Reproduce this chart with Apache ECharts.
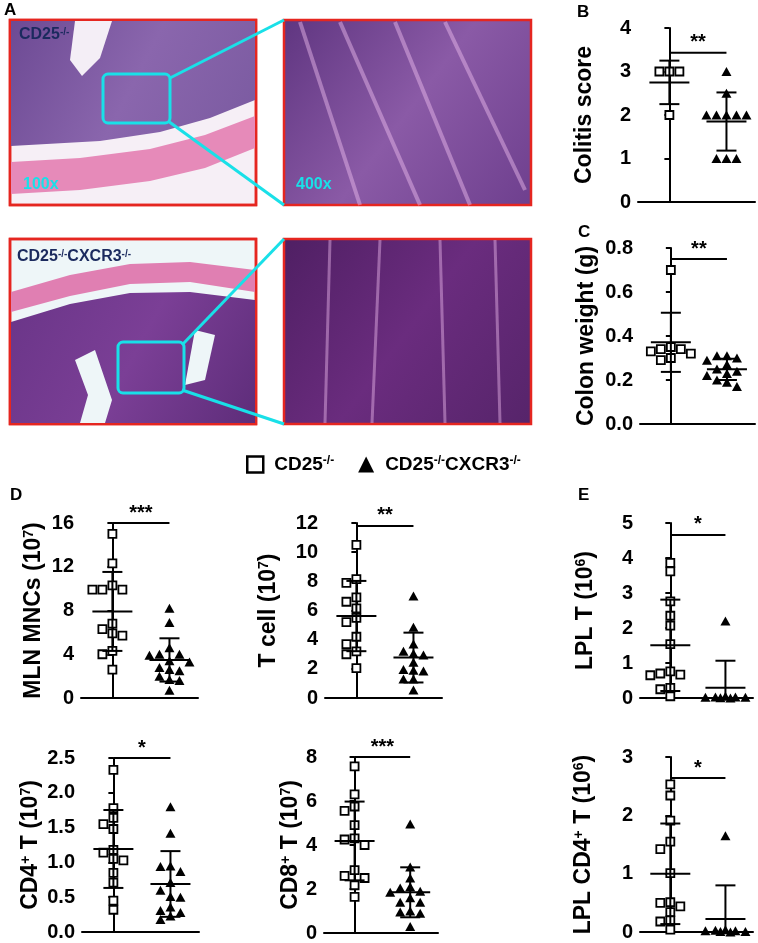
<!DOCTYPE html>
<html>
<head>
<meta charset="utf-8">
<title>CD25 / CXCR3 colitis</title>
<script src="https://cdn.jsdelivr.net/npm/echarts@6/dist/echarts.min.js"></script>
<style>html,body{margin:0;padding:0;background:#fff;} #main{width:758px;height:943px;}</style>
</head>
<body>
<div id="main"></div>
<script type="text/javascript">
// the two groups
var groupNames = ['CD25-/-', 'CD25-/-CXCR3-/-'];

// B: colitis score
var colitisKO = [3, 3, 3, 2];
var colitisDKO = [3, 2.5, 2, 2, 2, 2, 2, 1, 1, 1];
// C: colon weight (g)
var weightKO = [0.70, 0.35, 0.34, 0.34, 0.33, 0.32, 0.30, 0.29];
var weightDKO = [0.31, 0.31, 0.30, 0.29, 0.27, 0.25, 0.24, 0.23, 0.22, 0.20, 0.19, 0.17];
// D: MLN MNCs, T cell, CD4+ T, CD8+ T (10^7)
var mlnKO = [15.0, 12.3, 10.3, 9.9, 9.9, 9.9, 6.8, 6.3, 5.9, 5.7, 4.3, 4.0, 2.6];
var mlnDKO = [8.2, 6.9, 4.6, 4.0, 4.0, 3.9, 3.4, 3.3, 2.8, 2.6, 2.5, 2.0, 1.7, 1.6, 0.7];
var tcellKO = [10.5, 8.15, 7.9, 6.9, 6.6, 6.15, 5.5, 5.2, 4.2, 3.7, 3.2, 3.0, 2.05];
var tcellDKO = [7.0, 4.85, 3.7, 3.2, 3.05, 2.95, 2.45, 1.95, 1.9, 1.85, 1.3, 1.3, 0.55];
var cd4KO = [2.33, 1.78, 1.64, 1.55, 1.48, 1.18, 1.14, 1.05, 1.03, 0.85, 0.71, 0.45, 0.32];
var cd4DKO = [1.80, 1.42, 0.95, 0.94, 0.87, 0.71, 0.60, 0.51, 0.50, 0.36, 0.31, 0.28, 0.23, 0.18];
var cd8KO = [7.57, 6.3, 5.75, 5.55, 4.9, 4.3, 4.25, 4.0, 2.86, 2.6, 2.5, 2.17, 1.64];
var cd8DKO = [4.95, 3.0, 2.5, 2.1, 2.05, 1.9, 1.85, 1.6, 1.4, 1.4, 1.0, 0.95, 0.9, 0.3];
// E: LPL T, LPL CD4+ T (10^6)
var lplKO = [3.86, 3.62, 2.76, 2.35, 2.07, 1.54, 0.76, 0.70, 0.67, 0.65, 0.29, 0.25, 0.05];
var lplDKO = [2.2, 0.05, 0.03, 0.03, 0.02, 0.02, 0.01, 0.0];
var lplCd4KO = [2.53, 2.34, 1.91, 1.55, 1.42, 1.01, 0.51, 0.50, 0.44, 0.34, 0.20, 0.18, 0.04];
var lplCd4DKO = [1.65, 0.04, 0.03, 0.02, 0.02, 0.01, 0.01, 0.0];

// per plot: y axis and significance
var yTitles = ['Colitis score', 'Colon weight (g)', 'MLN MNCs (10{s|7})', 'T cell (10{s|7})',
               'CD4{s|+} T (10{s|7})', 'CD8{s|+} T (10{s|7})', 'LPL T (10{s|6})', 'LPL CD4{s|+} T (10{s|6})'];
var yMax = [4, 0.8, 16, 12, 2.5, 8, 5, 3];
var yStep = [1, 0.2, 4, 2, 0.5, 2, 1, 1];
var yDigits = [0, 1, 0, 0, 1, 0, 0, 0];
var sigStars = ['**', '**', '***', '**', '*', '***', '*', '*'];
var sigLevel = [3.43, 0.75, 16, 11.8, 2.5, 8, 4.66, 2.64];

var koSets = [colitisKO, weightKO, mlnKO, tcellKO, cd4KO, cd8KO, lplKO, lplCd4KO];
var dkoSets = [colitisDKO, weightDKO, mlnDKO, tcellDKO, cd4DKO, cd8DKO, lplDKO, lplCd4DKO];

// layout of the eight plot boxes
var boxes = [
    {left: 638, top: 28, width: 117, height: 174, gap: 42},
    {left: 640, top: 248, width: 115, height: 176, gap: 42},
    {left: 81, top: 523, width: 117, height: 175, gap: 36},
    {left: 325, top: 523, width: 117, height: 175, gap: 45},
    {left: 82, top: 758, width: 117, height: 174, gap: 40},
    {left: 324, top: 757, width: 114, height: 176, gap: 22},
    {left: 640, top: 523, width: 113, height: 175, gap: 43},
    {left: 640, top: 757, width: 113, height: 175, gap: 45}
];

var FONT = "'Liberation Sans', Arial, sans-serif";
var X_MIN = -0.55, X_MAX = 1.5;

function mean(a) {
    var s = 0;
    a.forEach(function (v) { s += v; });
    return s / a.length;
}
function sd(a) {
    var m = mean(a), s = 0;
    a.forEach(function (v) { s += (v - m) * (v - m); });
    return Math.sqrt(s / (a.length - 1));
}

// simple prism-like dot placement, works in pixels
function swarm(vals, center, pxPerY, pxPerX) {
    var step = 10, yTol = 8;
    var slots = [0, -1, 1, -2, 2, -0.5, 0.5, -1.5, 1.5];
    var placed = [];
    vals.slice().sort(function (a, b) { return b - a; }).forEach(function (v) {
        var y = v * pxPerY, best = 0, bestD = -1;
        for (var i = 0; i < slots.length; i++) {
            var x = slots[i] * step, d = 1e9, free = true;
            placed.forEach(function (p) {
                if (Math.abs(p.x - x) < step - 1 && Math.abs(p.y - y) < yTol) free = false;
                d = Math.min(d, Math.sqrt((p.x - x) * (p.x - x) + (p.y - y) * (p.y - y)));
            });
            if (free) { best = slots[i]; break; }
            if (d > bestD) { bestD = d; best = slots[i]; }
        }
        placed.push({x: best * step, y: y, v: v});
    });
    return placed.map(function (p) { return [center + p.x / pxPerX, p.v]; });
}

var grids = [], xAxes = [], yAxes = [], series = [];

boxes.forEach(function (b, i) {
    grids.push({left: b.left, top: b.top, width: b.width, height: b.height});
    xAxes.push({
        type: 'value', gridIndex: i, min: X_MIN, max: X_MAX,
        axisLine: {show: true, onZero: false, lineStyle: {color: '#000', width: 2}},
        axisTick: {show: false}, axisLabel: {show: false}, splitLine: {show: false}
    });
    yAxes.push({
        type: 'value', gridIndex: i, min: 0, max: yMax[i], interval: yStep[i],
        name: yTitles[i], nameLocation: 'middle', nameRotate: 90, nameGap: b.gap,
        nameTextStyle: {
            color: '#000', fontSize: 23, fontWeight: 'bold', fontFamily: FONT,
            rich: {s: {fontSize: 14, fontWeight: 'bold', fontFamily: FONT, color: '#000', verticalAlign: 'top'}}
        },
        axisLine: {show: true, lineStyle: {color: '#000', width: 2}},
        axisTick: {show: true, length: 5, lineStyle: {color: '#000', width: 2}},
        axisLabel: {
            color: '#000', fontSize: 20, fontWeight: 'bold', fontFamily: FONT, margin: 7,
            formatter: (function (dg) { return function (v) { return v.toFixed(dg); }; })(yDigits[i])
        },
        splitLine: {show: false}
    });

    var pxPerY = b.height / yMax[i];
    var pxPerX = b.width / (X_MAX - X_MIN);
    series.push({
        name: groupNames[0], type: 'scatter', xAxisIndex: i, yAxisIndex: i, clip: false, z: 2,
        symbol: 'rect', symbolSize: 8,
        itemStyle: {color: '#fff', borderColor: '#000', borderWidth: 1.8, opacity: 1},
        data: swarm(koSets[i], 0, pxPerY, pxPerX)
    });
    series.push({
        name: groupNames[1], type: 'scatter', xAxisIndex: i, yAxisIndex: i, clip: false, z: 2,
        symbol: 'triangle', symbolSize: [10, 9],
        itemStyle: {color: '#000', opacity: 1},
        data: swarm(dkoSets[i], 1, pxPerY, pxPerX)
    });
    // mean and SD
    series.push({
        type: 'custom', xAxisIndex: i, yAxisIndex: i, z: 3, silent: true,
        data: [[0, mean(koSets[i]), sd(koSets[i])], [1, mean(dkoSets[i]), sd(dkoSets[i])]],
        renderItem: function (params, api) {
            var x = api.value(0), m = api.value(1), s = api.value(2);
            var c = api.coord([x, m]);
            var hi = api.coord([x, m + s]);
            var lo = api.coord([x, Math.max(m - s, 0)]);
            var st = {stroke: '#000', lineWidth: 2};
            var kids = [
                {type: 'line', shape: {x1: c[0] - 20, y1: c[1], x2: c[0] + 20, y2: c[1]}, style: st},
                {type: 'line', shape: {x1: c[0], y1: hi[1], x2: c[0], y2: lo[1]}, style: st},
                {type: 'line', shape: {x1: c[0] - 10, y1: hi[1], x2: c[0] + 10, y2: hi[1]}, style: st}
            ];
            if (m - s > 0) {
                kids.push({type: 'line', shape: {x1: c[0] - 10, y1: lo[1], x2: c[0] + 10, y2: lo[1]}, style: st});
            }
            return {type: 'group', children: kids};
        }
    });
    // significance bar
    series.push({
        type: 'custom', xAxisIndex: i, yAxisIndex: i, z: 3, silent: true,
        data: [[sigLevel[i]]],
        renderItem: (function (stars) {
            return function (params, api) {
                var y = api.value(0);
                var a = api.coord([0, y]), b2 = api.coord([1, y]);
                return {type: 'group', children: [
                    {type: 'line', shape: {x1: a[0], y1: a[1], x2: b2[0], y2: b2[1]}, style: {stroke: '#000', lineWidth: 2}},
                    {type: 'text', style: {text: stars, x: (a[0] + b2[0]) / 2, y: a[1], align: 'center', verticalAlign: 'bottom',
                        fontSize: 20, fontWeight: 'bold', fontFamily: FONT, fill: '#000'}}
                ]};
            };
        })(sigStars[i])
    });
});

// histology panels (pictures can only be suggested)
function frame(x, y, w, h, fill) {
    return {type: 'rect', shape: {x: x, y: y, width: w, height: h}, style: {fill: fill, stroke: '#e52620', lineWidth: 2.5}, z: 1};
}
function grad(c1, c2, c3) {
    return {type: 'linear', x: 0, y: 0, x2: 1, y2: 1, colorStops: [
        {offset: 0, color: c1}, {offset: 0.5, color: c2}, {offset: 1, color: c3}]};
}
function streaks(pts, col, w) {
    return pts.map(function (p) {
        return {type: 'polyline', shape: {points: p}, style: {stroke: col, lineWidth: w, fill: null}, z: 2};
    });
}
var supRich = {
    b: {fontSize: 16, fontWeight: 'bold', fontFamily: FONT, fill: '#1b2a5e'},
    s: {fontSize: 10, fontWeight: 'bold', fontFamily: FONT, fill: '#1b2a5e', verticalAlign: 'top'}
};
var cyan = '#19e0e8';

var histo = [
    frame(10, 20, 246, 185, '#f6eff6'),
    {type: 'polygon', shape: {points: [[11, 21], [255, 21], [255, 100], [210, 118], [160, 132], [100, 141], [11, 146]]},
        style: {fill: grad('#6d4a94', '#8a66ad', '#7a5aa0')}, z: 2},
    {type: 'polygon', shape: {points: [[75, 21], [112, 21], [100, 58], [82, 76], [70, 60]]}, style: {fill: '#f4eef6'}, z: 2},
    {type: 'polygon', shape: {points: [[11, 162], [80, 158], [150, 149], [205, 135], [255, 116], [255, 148], [205, 168], [150, 181], [80, 190], [11, 194]]},
        style: {fill: '#e68ab9'}, z: 2},
    frame(284, 20, 247, 185, grad('#5f3580', '#8a5aa6', '#6e3f8e')),
    frame(10, 239, 246, 185, '#eef6f8'),
    {type: 'polygon', shape: {points: [[11, 292], [70, 275], [130, 264], [190, 262], [255, 270], [255, 292], [190, 282], [130, 284], [70, 296], [11, 312]]},
        style: {fill: '#e07fb2'}, z: 2},
    {type: 'polygon', shape: {points: [[11, 322], [70, 304], [130, 293], [190, 292], [255, 300], [255, 423], [11, 423]]},
        style: {fill: grad('#6a3588', '#7b3f96', '#5e2d7a')}, z: 2},
    {type: 'polygon', shape: {points: [[75, 360], [95, 350], [112, 400], [105, 423], [80, 423], [88, 395]]}, style: {fill: '#eef6f8'}, z: 2},
    {type: 'polygon', shape: {points: [[195, 330], [215, 335], [205, 380], [185, 385]]}, style: {fill: '#eef6f8'}, z: 2},
    frame(284, 239, 247, 185, grad('#4f1f63', '#6a2c7e', '#56246a'))
];
histo = histo.concat(streaks([
    [[300, 22], [360, 205]], [[340, 22], [420, 205]], [[395, 22], [470, 205]], [[445, 22], [525, 190]]
], 'rgba(240,190,240,0.45)', 4));
histo = histo.concat(streaks([
    [[330, 240], [325, 423]], [[380, 240], [372, 423]], [[440, 240], [445, 423]], [[495, 240], [500, 423]]
], 'rgba(235,185,235,0.45)', 3));
histo = histo.concat([
    frame(10, 20, 246, 185, 'transparent'),
    frame(10, 239, 246, 185, 'transparent'),
    {type: 'rect', shape: {x: 103, y: 74, width: 67, height: 49, r: 5}, style: {fill: null, stroke: cyan, lineWidth: 3}, z: 4},
    {type: 'line', shape: {x1: 170, y1: 78, x2: 284, y2: 20}, style: {stroke: cyan, lineWidth: 3}, z: 4},
    {type: 'line', shape: {x1: 168, y1: 121, x2: 284, y2: 205}, style: {stroke: cyan, lineWidth: 3}, z: 4},
    {type: 'rect', shape: {x: 118, y: 342, width: 66, height: 51, r: 5}, style: {fill: null, stroke: cyan, lineWidth: 3}, z: 4},
    {type: 'line', shape: {x1: 182, y1: 345, x2: 284, y2: 239}, style: {stroke: cyan, lineWidth: 3}, z: 4},
    {type: 'line', shape: {x1: 182, y1: 390, x2: 284, y2: 424}, style: {stroke: cyan, lineWidth: 3}, z: 4},
    {type: 'text', x: 19, y: 27, z: 5, style: {text: '{b|CD25}{s|-/-}', rich: supRich}},
    {type: 'text', x: 17, y: 249, z: 5, style: {text: '{b|CD25}{s|-/-}{b|CXCR3}{s|-/-}', rich: supRich}},
    {type: 'text', x: 23, y: 177, z: 5, style: {text: '100x', fill: cyan, fontSize: 16, fontWeight: 'bold', fontFamily: FONT}},
    {type: 'text', x: 296, y: 177, z: 5, style: {text: '400x', fill: cyan, fontSize: 16, fontWeight: 'bold', fontFamily: FONT}}
]);

// panel letters
var letters = [['A', 4, 2], ['B', 577, 4], ['C', 578, 224], ['D', 10, 487], ['E', 578, 487]];
letters.forEach(function (l) {
    histo.push({type: 'text', x: l[1], y: l[2], style: {text: l[0], fill: '#000', fontSize: 17, fontWeight: 'bold', fontFamily: FONT}});
});

var myChart = echarts.init(document.getElementById('main'));
myChart.setOption({
    animation: false,
    backgroundColor: '#fff',
    grid: grids,
    xAxis: xAxes,
    yAxis: yAxes,
    legend: {
        left: 241, top: 450, itemWidth: 16, itemHeight: 16, itemGap: 24,
        data: [
            {name: groupNames[0], icon: 'rect', itemStyle: {color: '#fff', borderColor: '#000', borderWidth: 2.5}},
            {name: groupNames[1], icon: 'triangle', itemStyle: {color: '#000', borderWidth: 0}}
        ],
        formatter: function (name) { return name.replace(/-\/-/g, '{s|-/-}'); },
        textStyle: {
            color: '#000', fontSize: 19, fontWeight: 'bold', fontFamily: FONT, padding: [0, 0, 0, 6],
            rich: {s: {fontSize: 12, fontWeight: 'bold', fontFamily: FONT, color: '#000', verticalAlign: 'top'}}
        },
        selectedMode: false
    },
    graphic: histo,
    series: series
});
</script>
</body>
</html>
